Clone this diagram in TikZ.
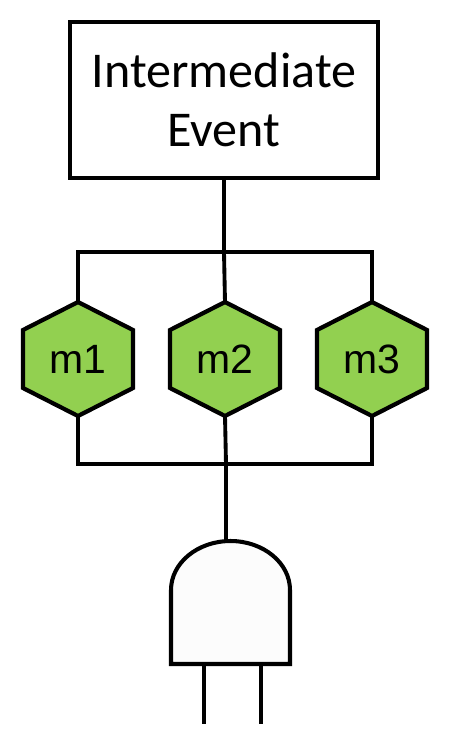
\documentclass[tikz,border=0pt]{standalone}
\usepackage{fontspec}
\setmainfont{Liberation Sans}
\newfontfamily\eventfont{Carlito}
\usetikzlibrary{positioning}
\definecolor{mgreen}{HTML}{92D050}
\tikzset{
  eventbox/.style={draw=black,line width=2.3pt,fill=white,minimum width=6.16cm,minimum height=3.12cm,align=center,font=\eventfont\fontsize{28.5}{33.5}\selectfont,inner sep=0pt},
  mhexline/.style={draw=black,line width=2.4pt,line join=miter,fill=mgreen},
  mtext/.style={minimum width=2.2cm,minimum height=2.26cm,font=\fontsize{23.3}{26}\selectfont,inner sep=0pt},
  wire/.style={line width=2.2pt},
  wirethick/.style={line width=2.8pt}
}
\newcommand{\mhexagon}[3]{
  \draw[mhexline] (#2,-6.04) -- ++(1.1,-0.56) -- ++(0,-1.16) -- ++(-1.1,-0.56) -- ++(-1.1,0.56) -- ++(0,1.16) -- cycle;
  \node[mtext] (#1) at (#2,-7.18) {#3};
}
\begin{document}
\begin{tikzpicture}
\useasboundingbox (0,0) rectangle (9,-14.94);
\node[eventbox] (ev) at (4.48,-2) {Intermediate\\Event};
\mhexagon{m1}{1.56}{m1}
\mhexagon{m2}{4.5}{m2}
\mhexagon{m3}{7.44}{m3}
\coordinate (topbus) at (4.48,-5.04);
\coordinate (lowbus) at (4.52,-9.28);
% gate
\coordinate (gatetop) at (4.6,-10.82);
\coordinate (gateleft) at (3.42,-11.8);
\coordinate (gateright) at (5.8,-11.8);
\coordinate (gatebl) at (3.42,-13.28);
\coordinate (gatebr) at (5.8,-13.28);
\coordinate (ina) at (4.08,-13.28);
\coordinate (inb) at (5.22,-13.28);
\coordinate (ina end) at (4.08,-14.48);
\coordinate (inb end) at (5.22,-14.48);
\draw[line width=2.3pt,fill=black!1] (gatebl)--(gateleft) arc[start angle=180,end angle=0,x radius=1.19cm,y radius=0.98cm]--(gatebr)--cycle;
\draw[wirethick] (ev.south)--(topbus);
\draw[wire] (m1.north)|-(topbus)-|(m3.north);
\draw[wire] (topbus)--(m2.north);
\draw[wire] (m1.south)|-(lowbus)-|(m3.south);
\draw[wire] (m2.south)--(lowbus);
\draw[wirethick] (lowbus)--(gatetop-|lowbus);
\draw[wire] (ina)--(ina end);
\draw[wire] (inb)--(inb end);
\end{tikzpicture}
\end{document}
